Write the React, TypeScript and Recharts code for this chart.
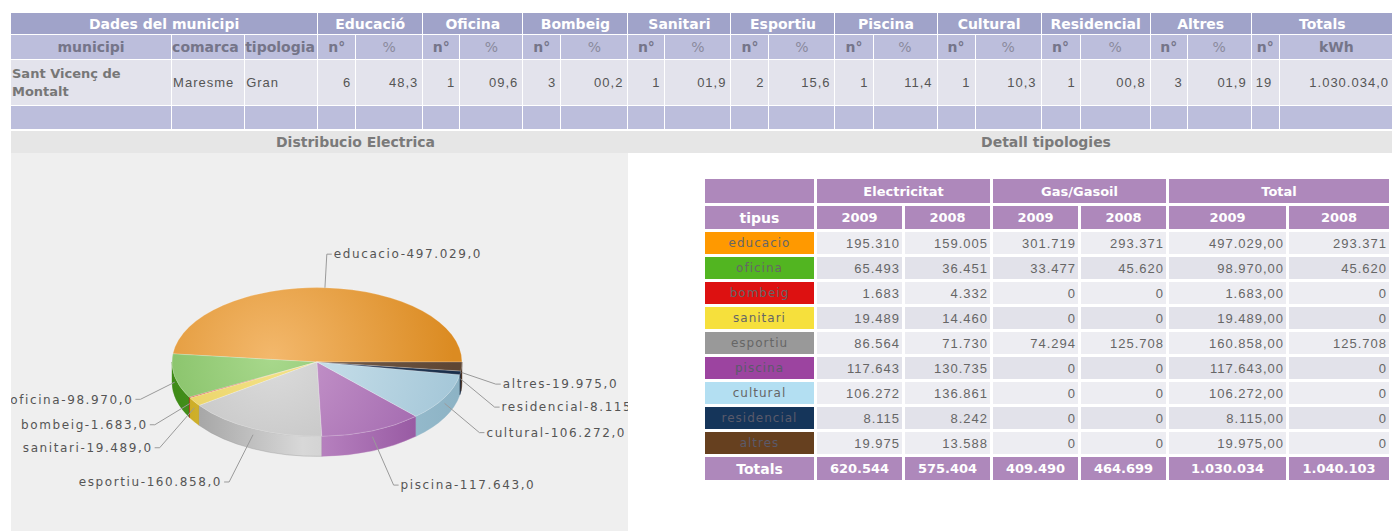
import { Pie, PieChart } from "recharts";

// top table: one block per building type
const CATEGORIES = ["Educació", "Oficina", "Bombeig", "Sanitari", "Esportiu", "Piscina", "Cultural", "Residencial", "Altres"];
const CAT_COUNTS = [6, 1, 3, 1, 2, 1, 1, 1, 3];
const CAT_PCT = ["48,3", "09,6", "00,2", "01,9", "15,6", "11,4", "10,3", "00,8", "01,9"];
const TOTAL_COUNT = 19;
const TOTAL_KWH = "1.030.034,0";
const MUNICIPI = "Sant Vicenç de Montalt";
const COMARCA = "Maresme";
const TIPOLOGIA = "Gran";

// detail table + pie
const TIPUS = ["educacio", "oficina", "bombeig", "sanitari", "esportiu", "piscina", "cultural", "residencial", "altres"];
const ELEC_2009 = [195310, 65493, 1683, 19489, 86564, 117643, 106272, 8115, 19975];
const ELEC_2008 = [159005, 36451, 4332, 14460, 71730, 130735, 136861, 8242, 13588];
const GAS_2009 = [301719, 33477, 0, 0, 74294, 0, 0, 0, 0];
const GAS_2008 = [293371, 45620, 0, 0, 125708, 0, 0, 0, 0];
const TOTAL_2009 = [497029, 98970, 1683, 19489, 160858, 117643, 106272, 8115, 19975];
const TOTAL_2008 = [293371, 45620, 0, 0, 125708, 0, 0, 0, 0];
const TOTALS_ROW = [620544, 575404, 409490, 464699, 1030034, 1040103];

const SWATCH = ["#ff9900", "#52b521", "#dd1111", "#f6e03c", "#999999", "#9c44a0", "#b3dff2", "#15355a", "#66401f"];
const PIE_TOP = [
  ["#f3b86c", "#db8b22"], ["#a8d88c", "#76b656"], ["#e04a3a", "#c82818"], ["#f4e28a", "#e2c84a"],
  ["#dcdcdc", "#b8b8b8"], ["#c99acd", "#a066ad"], ["#d0e5ee", "#a6c8d9"], ["#34496a", "#1a2e4a"], ["#7c6450", "#5e4634"],
];
const PIE_WALL = [
  ["#c8801c", "#e59a38", "#c07818"], ["#3e8a16", "#5aa830", "#3a8214"], ["#a81a10", "#d03020", "#a01808"],
  ["#c8a820", "#ecd050", "#c0a018"], ["#9a9a9a", "#d8d8d8", "#b4b4b4"], ["#b27ab8", "#bc88c4", "#8a4896"],
  ["#90b6c8", "#a6cadb", "#8cb2c4"], ["#142640", "#20344f", "#10203a"], ["#4c3626", "#5c4432", "#4a3424"],
];

const fmt = (n: number) => String(n).replace(/\B(?=(\d{3})+(?!\d))/g, ".");

const pieData = TIPUS.map((name, i) => ({ name, value: TOTAL_2009[i] }));

const RAD = Math.PI / 180;
const PIE_CX = 306;
const PIE_CY = 209;
const PIE_R = 145;
const TILT = 0.513;
const DEPTH = 20;

const LABEL_RX = 179;
const LABEL_RX_EXTRA = 25;
const LABEL_RY_UP = 108;
const LABEL_RY_DOWN = 117;
const LABEL_DROP = 15;
const LABEL_GAP = 23;

// label placement: project mid angles onto a wider ellipse, then spread overlapping ones
function buildLabelLayout() {
  const total = TOTAL_2009.reduce((a, b) => a + b, 0);
  let acc = 0;
  const items = TOTAL_2009.map((v, i) => {
    const mid = ((acc + v / 2) / total) * 360;
    acc += v;
    const c = Math.cos(mid * RAD);
    const s = Math.sin(mid * RAD);
    const dy = s > 0 ? -LABEL_RY_UP * s : LABEL_DROP - LABEL_RY_DOWN * s;
    const rx = s > 0 ? LABEL_RX : LABEL_RX + LABEL_RX_EXTRA * s * s;
    return { i, mid, side: c >= 0 ? 1 : -1, dx: rx * c, dy };
  });
  // right column: push crowded labels downward
  const right = items.filter((it) => it.side === 1).sort((a, b) => a.dy - b.dy);
  for (let j = 1; j < right.length; j++) {
    if (right[j].dy - right[j - 1].dy < LABEL_GAP) right[j].dy = right[j - 1].dy + LABEL_GAP;
  }
  // left column: spread crowded labels around their centre
  const left = items.filter((it) => it.side === -1).sort((a, b) => a.dy - b.dy);
  for (let k = 0; k < 100; k++) {
    for (let j = 1; j < left.length; j++) {
      const d = left[j].dy - left[j - 1].dy;
      if (d < LABEL_GAP) {
        const o = (LABEL_GAP - d) / 2;
        left[j - 1].dy -= o;
        left[j].dy += o;
      }
    }
  }
  return items;
}
const LABELS = buildLabelLayout();

function pt(cx: number, cy: number, r: number, a: number, dy = 0): [number, number] {
  return [cx + r * Math.cos(a * RAD), cy - r * TILT * Math.sin(a * RAD) + dy];
}

function sliceIndex(props: any) {
  const key = props.payload?.name ?? props.name;
  return TIPUS.indexOf(key);
}

function Slice3D(props: any) {
  const { cx, cy, outerRadius: r, startAngle, endAngle } = props;
  const i = sliceIndex(props);
  const ry = r * TILT;
  const [sx, sy] = pt(cx, cy, r, startAngle);
  const [ex, ey] = pt(cx, cy, r, endAngle);
  const large = endAngle - startAngle > 180 ? 1 : 0;
  const top = `M${cx},${cy} L${sx},${sy} A${r},${ry} 0 ${large} 0 ${ex},${ey} Z`;
  const a0 = Math.max(startAngle, 180);
  const a1 = Math.min(endAngle, 360);
  let wall: string | null = null;
  if (a1 > a0) {
    const [x0, y0] = pt(cx, cy, r, a0);
    const [x1, y1] = pt(cx, cy, r, a1);
    wall = `M${x0},${y0} A${r},${ry} 0 0 0 ${x1},${y1} L${x1},${y1 + DEPTH} A${r},${ry} 0 0 1 ${x0},${y0 + DEPTH} Z`;
  }
  return (
    <g>
      <defs>
        <radialGradient id={`top-${i}`} gradientUnits="userSpaceOnUse" cx={cx - 45} cy={cy - 5} r={r * 1.25}>
          <stop offset="0" stopColor={PIE_TOP[i][0]} />
          <stop offset="1" stopColor={PIE_TOP[i][1]} />
        </radialGradient>
        <linearGradient id={`wall-${i}`} gradientUnits="userSpaceOnUse" x1={cx - r} y1={0} x2={cx + r} y2={0}>
          <stop offset="0" stopColor={PIE_WALL[i][0]} />
          <stop offset="0.45" stopColor={PIE_WALL[i][1]} />
          <stop offset="1" stopColor={PIE_WALL[i][2]} />
        </linearGradient>
      </defs>
      {wall && <path d={wall} fill={`url(#wall-${i})`} stroke={PIE_WALL[i][0]} strokeWidth={0.4} />}
      <path d={top} fill={`url(#top-${i})`} stroke="rgba(255,255,255,0.35)" strokeWidth={0.6} />
    </g>
  );
}

function SliceLabel(props: any) {
  const i = sliceIndex(props);
  if (i < 0) return null;
  const L = LABELS[i];
  const cx = props.cx ?? PIE_CX;
  const cy = props.cy ?? PIE_CY;
  const r = props.outerRadius ?? PIE_R;
  const mid = props.midAngle ?? L.mid;
  const lower = Math.sin(mid * RAD) < 0;
  const [ax, ay] = pt(cx, cy, r, mid, lower ? 6 : 0);
  const x = cx + L.dx;
  const y = cy + L.dy;
  const x2 = x + 5 * L.side;
  return (
    <g>
      <polyline points={`${ax},${ay} ${x},${y} ${x2},${y}`} fill="none" stroke="#9a9a9a" strokeWidth={1} />
      <text
        x={x2 + 2 * L.side}
        y={y}
        dy="0.35em"
        textAnchor={L.side > 0 ? "start" : "end"}
        fontFamily="DejaVu Sans"
        fontSize={12}
        letterSpacing={1.6}
        fill="#555"
      >
        {`${TIPUS[i]}-${fmt(TOTAL_2009[i])},0`}
      </text>
    </g>
  );
}

const TOP_WIDTHS = [161, 73, 73, 38, 67, 37, 63, 38, 67, 37, 66, 38, 66, 38, 64, 38, 66, 39, 70, 37, 64, 28, 114];
const boldFont = "'DejaVu Sans', Verdana, sans-serif";
const plainFont = "'Liberation Sans', Arial, sans-serif";

const h1: React.CSSProperties = {
  background: "#a0a3c9", color: "#fff", fontFamily: boldFont, fontWeight: "bold", fontSize: 14,
  textAlign: "center", border: "1px solid #fff", padding: 0, height: 21,
};
const h2: React.CSSProperties = {
  background: "#bcbedc", color: "#757589", fontFamily: boldFont, fontWeight: "bold", fontSize: 14,
  textAlign: "center", border: "1px solid #fff", padding: 0, height: 24,
};
const d1: React.CSSProperties = {
  background: "#e3e3ec", color: "#555", fontFamily: plainFont, fontSize: 13, letterSpacing: 1,
  border: "1px solid #fff", padding: "0 4px 0 1px", textAlign: "right", height: 45,
};
const e1: React.CSSProperties = { background: "#bcbedc", border: "1px solid #fff", padding: 0, height: 23 };

function TopTable() {
  return (
    <table
      style={{
        position: "absolute", left: 10, top: 12, width: 1384, tableLayout: "fixed",
        borderCollapse: "collapse",
      }}
    >
      <colgroup>
        {TOP_WIDTHS.map((w, k) => (
          <col key={k} style={{ width: w }} />
        ))}
      </colgroup>
      <tbody>
        <tr>
          <td colSpan={3} style={h1}>Dades del municipi</td>
          {CATEGORIES.map((c) => (
            <td key={c} colSpan={2} style={h1}>{c}</td>
          ))}
          <td colSpan={2} style={h1}>Totals</td>
        </tr>
        <tr>
          <td style={h2}>municipi</td>
          <td style={{ ...h2, textAlign: "left" }}>comarca</td>
          <td style={{ ...h2, textAlign: "left" }}>tipologia</td>
          {CATEGORIES.flatMap((c) => [
            <td key={c + "n"} style={h2}>n°</td>,
            <td key={c + "p"} style={{ ...h2, fontWeight: "normal", color: "#8a8a9c" }}>%</td>,
          ])}
          <td style={h2}>n°</td>
          <td style={h2}>kWh</td>
        </tr>
        <tr>
          <td style={{ ...d1, textAlign: "left", fontFamily: boldFont, fontWeight: "bold", letterSpacing: 0, color: "#777", lineHeight: "18px" }}>
            {MUNICIPI}
          </td>
          <td style={{ ...d1, textAlign: "left" }}>{COMARCA}</td>
          <td style={{ ...d1, textAlign: "left" }}>{TIPOLOGIA}</td>
          {CATEGORIES.flatMap((c, k) => [
            <td key={c + "n"} style={d1}>{CAT_COUNTS[k]}</td>,
            <td key={c + "p"} style={d1}>{CAT_PCT[k]}</td>,
          ])}
          <td style={{ ...d1, textAlign: "left", paddingLeft: 4 }}>{TOTAL_COUNT}</td>
          <td style={d1}>{TOTAL_KWH}</td>
        </tr>
        <tr>
          {TOP_WIDTHS.map((_, k) => (
            <td key={k} style={e1} />
          ))}
        </tr>
      </tbody>
    </table>
  );
}

const ph: React.CSSProperties = {
  background: "#ae88bb", color: "#fff", fontFamily: boldFont, fontWeight: "bold", fontSize: 13,
  textAlign: "center", padding: 0, height: 24,
};
const pd: React.CSSProperties = {
  color: "#666", fontFamily: plainFont, fontSize: 13, letterSpacing: 1, textAlign: "right",
  padding: "0 2px 0 0", height: 22,
};
const DETAIL_WIDTHS = [109, 85, 85, 85, 85, 117, 100];

function DetailTable() {
  return (
    <table
      style={{
        position: "absolute", left: 702, top: 176, tableLayout: "fixed",
        borderCollapse: "separate", borderSpacing: 3, width: 686,
      }}
    >
      <colgroup>
        {DETAIL_WIDTHS.map((w, k) => (
          <col key={k} style={{ width: w }} />
        ))}
      </colgroup>
      <tbody>
        <tr>
          <td style={ph} />
          <td colSpan={2} style={ph}>Electricitat</td>
          <td colSpan={2} style={ph}>Gas/Gasoil</td>
          <td colSpan={2} style={ph}>Total</td>
        </tr>
        <tr>
          <td style={{ ...ph, fontSize: 14, height: 23 }}>tipus</td>
          {["2009", "2008", "2009", "2008", "2009", "2008"].map((y, k) => (
            <td key={k} style={{ ...ph, height: 23 }}>{y}</td>
          ))}
        </tr>
        {TIPUS.map((t, i) => {
          const bg = i % 2 === 0 ? "#ededf2" : "#e2e2ea";
          return (
            <tr key={t}>
              <td
                style={{
                  background: SWATCH[i], color: i === 7 || i === 8 || i === 5 ? "#5a5a6a" : "#666",
                  fontFamily: boldFont, fontSize: 12, letterSpacing: 1, textAlign: "center", padding: 0, height: 22,
                }}
              >
                {t}
              </td>
              <td style={{ ...pd, background: bg }}>{fmt(ELEC_2009[i])}</td>
              <td style={{ ...pd, background: bg }}>{fmt(ELEC_2008[i])}</td>
              <td style={{ ...pd, background: bg }}>{fmt(GAS_2009[i])}</td>
              <td style={{ ...pd, background: bg }}>{fmt(GAS_2008[i])}</td>
              <td style={{ ...pd, background: bg }}>{fmt(TOTAL_2009[i])},00</td>
              <td style={{ ...pd, background: bg }}>{fmt(TOTAL_2008[i])}</td>
            </tr>
          );
        })}
        <tr>
          <td style={{ ...ph, fontSize: 14, height: 23 }}>Totals</td>
          {TOTALS_ROW.map((v, k) => (
            <td key={k} style={{ ...ph, height: 23 }}>{fmt(v)}</td>
          ))}
        </tr>
      </tbody>
    </table>
  );
}

export default function App() {
  return (
    <div
      style={{
        position: "fixed", left: 0, top: 0, width: 1392, height: 531, overflow: "hidden",
        background: "#fff", fontFamily: plainFont,
      }}
    >
      <TopTable />
      <div
        style={{
          position: "absolute", left: 11, top: 131, width: 1381, height: 22, background: "#e6e6e6",
          fontFamily: boldFont, fontWeight: "bold", fontSize: 14, color: "#7a7a7a", lineHeight: "22px",
        }}
      >
        <span style={{ position: "absolute", left: 0, width: 689, textAlign: "center" }}>Distribucio Electrica</span>
        <span style={{ position: "absolute", left: 689, width: 692, textAlign: "center" }}>Detall tipologies</span>
      </div>
      <div style={{ position: "absolute", left: 11, top: 153, width: 617, height: 378, background: "#efefef", overflow: "hidden" }}>
        <PieChart width={617} height={378} margin={{ top: 0, right: 0, bottom: 0, left: 0 }}>
          <Pie
            data={pieData}
            dataKey="value"
            nameKey="name"
            cx={PIE_CX}
            cy={PIE_CY}
            outerRadius={PIE_R}
            startAngle={0}
            endAngle={360}
            isAnimationActive={false}
            shape={Slice3D}
            label={SliceLabel}
            labelLine={false}
          />
        </PieChart>
      </div>
      <DetailTable />
    </div>
  );
}
